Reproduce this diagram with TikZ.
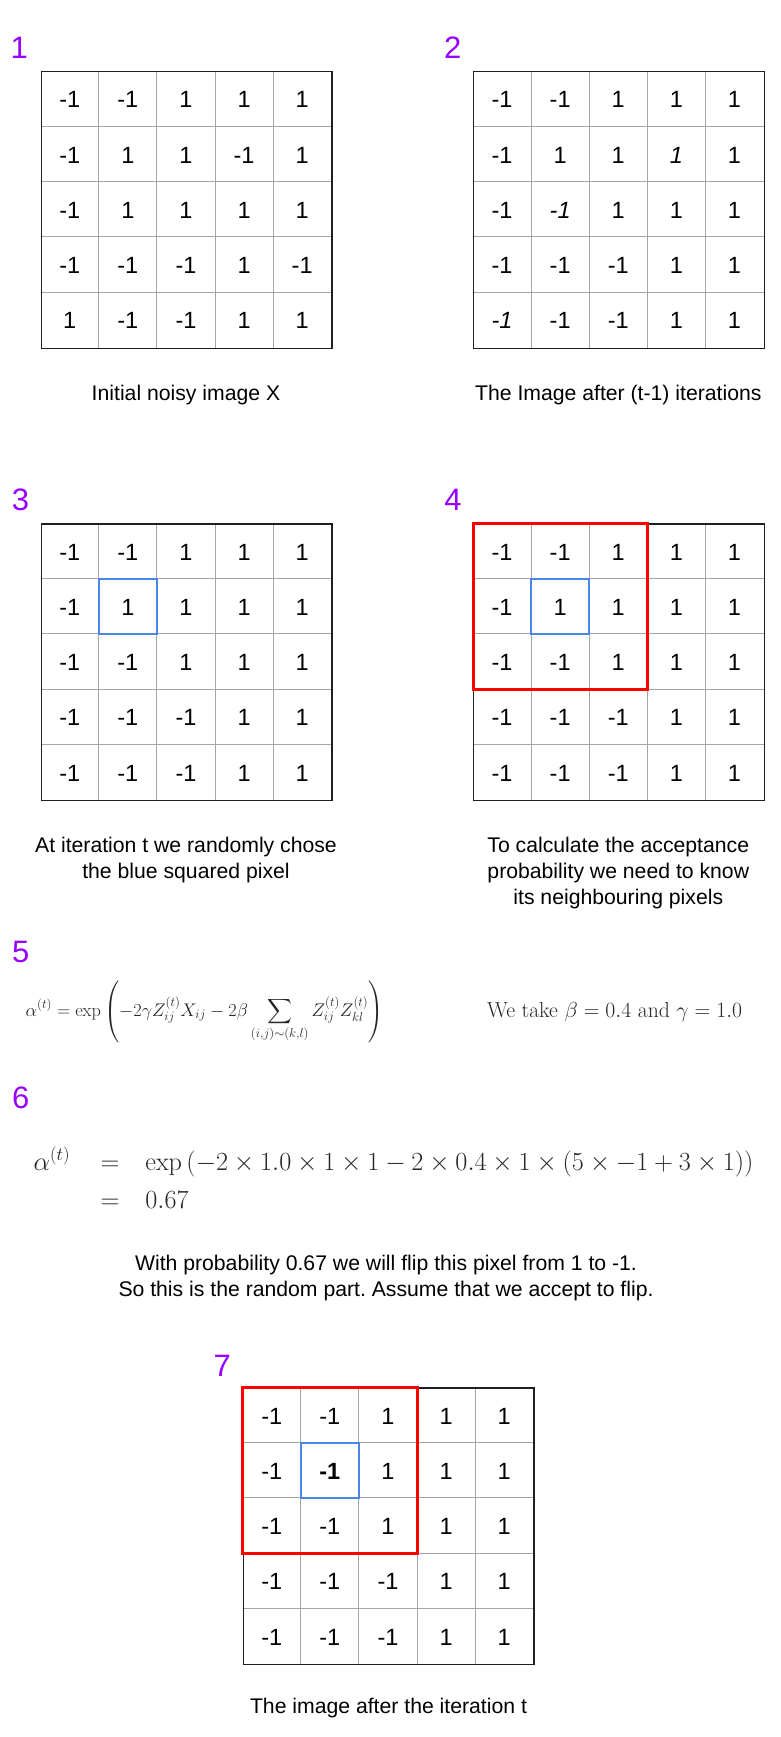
\documentclass[tikz,border=0pt]{standalone}
\usepackage{fix-cm}
\usepackage[no-math]{fontspec}
\usepackage{amsmath}
\newfontfamily\arial{Liberation Sans}
\frenchspacing
\definecolor{lblpurple}{HTML}{9900FF}
\definecolor{selblue}{HTML}{4A86E8}
\definecolor{gridgray}{HTML}{A6A6A6}
\definecolor{eqcol}{HTML}{262626}
\tikzset{
  cellnum/.style={font=\arial\fontsize{23.5}{28}\selectfont, inner sep=0pt, anchor=center},
  steplabel/.style={font=\arial\fontsize{31}{36}\selectfont, text=lblpurple, inner sep=0pt, anchor=base west},
  captext/.style={font=\arial\fontsize{21.2}{26}\selectfont, inner sep=0pt, anchor=base},
  innerline/.style={draw=gridgray, line width=1pt},
  gridborder/.style={draw=black!88, line width=1.4pt, inner sep=0pt, anchor=north west,
                     minimum width=290.5pt, minimum height=276.5pt},
  redbox/.style={draw=red, line width=3pt},
  bluebox/.style={draw=selblue, line width=1.8pt},
  eqfive/.style={font=\fontsize{18.3}{22}\selectfont, text=eqcol, inner sep=0pt, anchor=base west},
  eqfiver/.style={font=\fontsize{21.7}{26}\selectfont, text=eqcol, inner sep=0pt, anchor=base west},
  eqsix/.style={font=\fontsize{26.2}{31}\selectfont, text=eqcol, inner sep=0pt, anchor=base west},
}
% #1 name, #2 x, #3 y, #4 rows
\newcommand\mygrid[4]{%
  \foreach \i in {1,...,4}{
    \draw[innerline] ({#2+\i*58.1},#3) -- ++(0,276.5);
    \draw[innerline] (#2,{#3+\i*55.3}) -- ++(290.5,0);
  }
  \node[gridborder] (#1) at (#2,#3) {};
  \foreach \row [count=\r] in {#4}{
    \foreach \v [count=\c] in \row{
      \node[cellnum] (#1-\r-\c) at ({#2+(\c-0.5)*58.1},{#3+(\r-0.5)*55.3+1}) {\v};
    }
  }%
}
\begin{document}
\begin{tikzpicture}[x=1pt,y=-1pt]
\fill[white] (0,0) rectangle (781,1737);
\useasboundingbox (0,0) rectangle (781,1737);

% step labels
\node[steplabel] (l1) at (10.5,59) {1};
\node[steplabel] (l2) at (444,59) {2};
\node[steplabel] (l3) at (11.7,510) {3};
\node[steplabel] (l4) at (444.2,510) {4};
\node[steplabel] (l5) at (12,962) {5};
\node[steplabel] (l6) at (12,1108.5) {6};
\node[steplabel] (l7) at (213.5,1376.7) {7};

% grid 1
\mygrid{ga}{40.7}{71}{{-1,-1,1,1,1},{-1,1,1,-1,1},{-1,1,1,1,1},{-1,-1,-1,1,-1},{1,-1,-1,1,1}}
% grid 2
\mygrid{gb}{473}{71}{{-1,-1,1,1,1},{-1,1,1,{\itshape 1},1},{-1,{\itshape -1},1,1,1},{-1,-1,-1,1,1},{{\itshape -1},-1,-1,1,1}}
% grid 3
\mygrid{gc}{40.7}{523.3}{{-1,-1,1,1,1},{-1,1,1,1,1},{-1,-1,1,1,1},{-1,-1,-1,1,1},{-1,-1,-1,1,1}}
\draw[bluebox] (98.8,578.6) rectangle ++(58.1,55.3);
% grid 4
\mygrid{gd}{473}{523.3}{{-1,-1,1,1,1},{-1,1,1,1,1},{-1,-1,1,1,1},{-1,-1,-1,1,1},{-1,-1,-1,1,1}}
\draw[redbox] (473,523.3) rectangle ++(174.3,165.9);
\draw[bluebox] (531.1,578.6) rectangle ++(58.1,55.3);
% grid 7
\mygrid{gg}{242.7}{1387.3}{{-1,-1,1,1,1},{-1,{\bfseries -1},1,1,1},{-1,-1,1,1,1},{-1,-1,-1,1,1},{-1,-1,-1,1,1}}
\draw[redbox] (242.7,1387.3) rectangle ++(174.3,165.9);
\draw[bluebox] (300.8,1442.6) rectangle ++(58.1,55.3);

% captions
\node[captext] (c1) at (186,400) {Initial noisy image X};
\node[captext] (c2) at (618.3,400) {The Image after (t-1) iterations};
\node[captext] (c3a) at (186,852.3) {At iteration t we randomly chose};
\node[captext] (c3b) at (186,878.3) {the blue squared pixel};
\node[captext] (c4a) at (618.3,852.3) {To calculate the acceptance};
\node[captext] (c4b) at (618.3,878.3) {probability we need to know};
\node[captext] (c4c) at (618.3,904.3) {its neighbouring pixels};
\node[captext] (c6a) at (386,1270.7) {With probability 0.67 we will flip this pixel from 1 to -1.};
\node[captext] (c6b) at (386,1296.7) {So this is the random part. Assume that we accept to flip.};
\node[captext] (c7) at (388.5,1713) {The image after the iteration t};

% equation 5
\node[eqfive] (e5) at (25.5,1016) {$\displaystyle \alpha^{(t)} = \exp\left(-2\gamma Z^{(t)}_{ij}X_{ij} - 2\beta \sum_{(i,j)\sim(k,l)} Z^{(t)}_{ij}Z^{(t)}_{kl}\right)$};
\node[eqfiver] (e5r) at (487,1017) {We take $\beta = 0.4$ and $\gamma = 1.0$};

% equation 6
\node[eqsix] (e6a) at (33.5,1170) {$\alpha^{(t)}$};
\node[eqsix] (e6b) at (100.3,1170) {$=$};
\node[eqsix] (e6c) at (145.2,1170) {$\exp\left(-2\times 1.0\times 1\times 1 - 2\times 0.4\times 1\times (5\times -1 + 3\times 1)\right)$};
\node[eqsix] (e6d) at (100.3,1208) {$=$};
\node[eqsix] (e6e) at (145.2,1208) {$0.67$};
\end{tikzpicture}
\end{document}
